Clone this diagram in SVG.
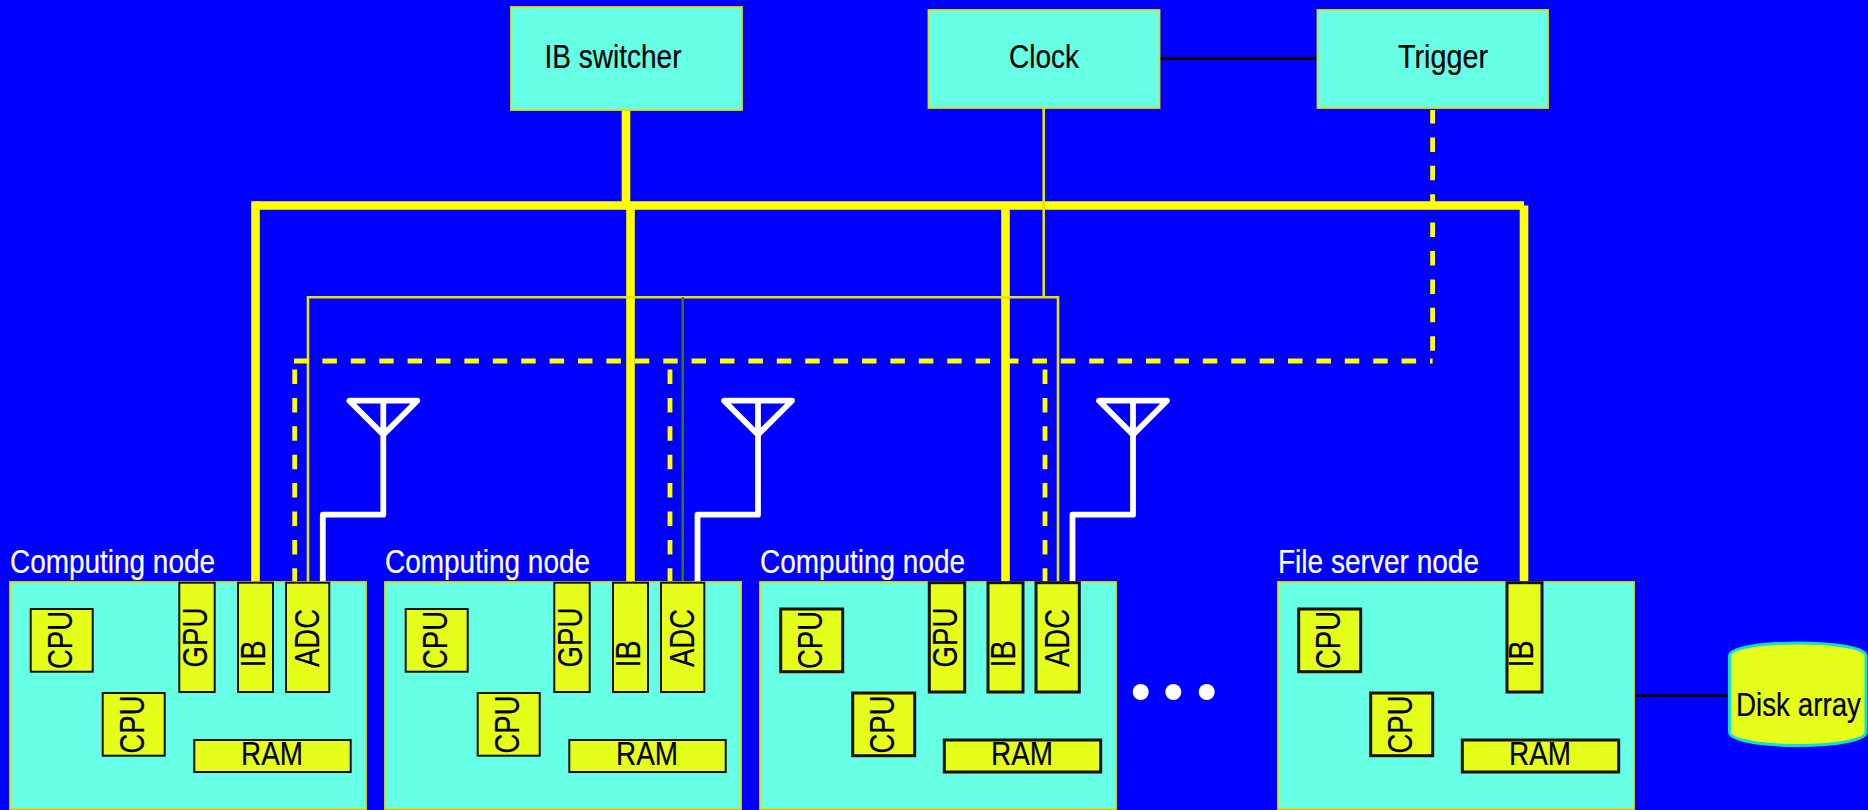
<svg xmlns="http://www.w3.org/2000/svg" width="1868" height="810" viewBox="0 0 1868 810">
<style>
.box{fill:#66ffe6;stroke:#e0e000;stroke-width:1.8}
.c{fill:#e6ff1a;stroke:#111;stroke-width:2}
.c2{fill:#e6ff1a;stroke:#111;stroke-width:3}
.t{font-family:"Liberation Sans",Arial,sans-serif;font-size:32.5px;fill:#000;stroke:#000;stroke-width:.2}
.r{font-size:35px}
.w{fill:#fff;stroke:#fff}
.l{fill:none}
.y8{stroke:#ffff00;stroke-width:8.6}
.y2{stroke:#e4e400;stroke-width:2.6}
.g{stroke:#3a7d0a;stroke-width:2.4}
.d{stroke:#ffff00;stroke-width:4.8;stroke-dasharray:14.5 13.9}
.a{stroke:#fff;stroke-width:5.8;stroke-linecap:round;stroke-linejoin:round}
.k{stroke:#000;stroke-width:2.8}
</style>
<defs>
<g id="ant"><path class="l a" d="M-34 0H34L0 34ZM0 0V114H-60.500V181.500"/></g>
</defs>
<rect width="1868" height="810" fill="#0000ff"/>
<g id="connectors">
<path class="l y8" d="M626 110V205"/>
<path class="l y8" d="M255.500 205.500H1524"/>
<path class="l y8" d="M255.500 201.200V582"/>
<path class="l y8" d="M630.500 205V582"/>
<path class="l y8" d="M1005.500 205V582"/>
<path class="l y8" d="M1524 205.500V582"/>
<path class="l y2" d="M1043.700 108V297"/>
<path class="l y2" d="M308 582V297.300H1058V582"/>
<path class="l g" d="M682.700 297V582"/>
<path class="l d" d="M1432.600 110V361" stroke-dashoffset="1"/>
<path class="l d" d="M1432.600 361H294" stroke-dashoffset="11.900"/>
<path class="l d" d="M294.700 369.500V582"/>
<path class="l d" d="M670 369.500V582"/>
<path class="l d" d="M1045 369.500V582"/>
<path class="l k" d="M1160 58.500H1317"/>
<path class="l k" d="M1634 695.700H1728"/>
<use href="#ant" x="383.300" y="400.700"/>
<use href="#ant" x="758" y="400.700"/>
<use href="#ant" x="1133" y="400.700"/>
</g>
<g id="ib-switcher"><rect class="box" x="511" y="7" width="231" height="103"/><text class="t" x="544.500" y="68" textLength="137" lengthAdjust="spacingAndGlyphs">IB switcher</text></g>
<g id="clock"><rect class="box" x="928.500" y="10" width="231" height="98"/><text class="t" x="1009" y="68" textLength="70" lengthAdjust="spacingAndGlyphs">Clock</text></g>
<g id="trigger"><rect class="box" x="1317.500" y="10" width="230.500" height="98"/><text class="t" x="1398" y="68" textLength="90" lengthAdjust="spacingAndGlyphs">Trigger</text></g>

<g id="node1">
<text class="t w" x="10" y="572.500" textLength="205" lengthAdjust="spacingAndGlyphs">Computing node</text>
<rect class="box" x="10" y="582" width="356" height="227"/>
<rect class="c" x="30.700" y="609" width="62" height="62.700"/><text class="t r" transform="translate(71.500 669) rotate(-90)" textLength="58" lengthAdjust="spacingAndGlyphs">CPU</text>
<rect class="c" x="102.700" y="693" width="62" height="62.700"/><text class="t r" transform="translate(143.500 753.500) rotate(-90)" textLength="58" lengthAdjust="spacingAndGlyphs">CPU</text>
<rect class="c" x="179.300" y="582.700" width="35.400" height="109.300"/><text class="t r" transform="translate(206.500 667.500) rotate(-90)" textLength="60" lengthAdjust="spacingAndGlyphs">GPU</text>
<rect class="c" x="238" y="582.700" width="35" height="109.300"/><text class="t r" transform="translate(265 667.500) rotate(-90)" textLength="27" lengthAdjust="spacingAndGlyphs">IB</text>
<rect class="c" x="286" y="582.700" width="43.300" height="109.300"/><text class="t r" transform="translate(319 667) rotate(-90)" textLength="58" lengthAdjust="spacingAndGlyphs">ADC</text>
<rect class="c" x="194.300" y="740" width="156.400" height="32"/><text class="t" x="241" y="765" textLength="62" lengthAdjust="spacingAndGlyphs">RAM</text>
</g>
<g id="node2" transform="translate(375 0)">
<text class="t w" x="10" y="572.500" textLength="205" lengthAdjust="spacingAndGlyphs">Computing node</text>
<rect class="box" x="10" y="582" width="356" height="227"/>
<rect class="c" x="30.700" y="609" width="62" height="62.700"/><text class="t r" transform="translate(71.500 669) rotate(-90)" textLength="58" lengthAdjust="spacingAndGlyphs">CPU</text>
<rect class="c" x="102.700" y="693" width="62" height="62.700"/><text class="t r" transform="translate(143.500 753.500) rotate(-90)" textLength="58" lengthAdjust="spacingAndGlyphs">CPU</text>
<rect class="c" x="179.300" y="582.700" width="35.400" height="109.300"/><text class="t r" transform="translate(206.500 667.500) rotate(-90)" textLength="60" lengthAdjust="spacingAndGlyphs">GPU</text>
<rect class="c" x="238" y="582.700" width="35" height="109.300"/><text class="t r" transform="translate(265 667.500) rotate(-90)" textLength="27" lengthAdjust="spacingAndGlyphs">IB</text>
<rect class="c" x="286" y="582.700" width="43.300" height="109.300"/><text class="t r" transform="translate(319 667) rotate(-90)" textLength="58" lengthAdjust="spacingAndGlyphs">ADC</text>
<rect class="c" x="194.300" y="740" width="156.400" height="32"/><text class="t" x="241" y="765" textLength="62" lengthAdjust="spacingAndGlyphs">RAM</text>
</g>
<g id="node3" transform="translate(750 0)">
<text class="t w" x="10" y="572.500" textLength="205" lengthAdjust="spacingAndGlyphs">Computing node</text>
<rect class="box" x="10" y="582" width="356" height="227"/>
<rect class="c2" x="30.700" y="609" width="62" height="62.700"/><text class="t r" transform="translate(71.500 669) rotate(-90)" textLength="58" lengthAdjust="spacingAndGlyphs">CPU</text>
<rect class="c2" x="102.700" y="693" width="62" height="62.700"/><text class="t r" transform="translate(143.500 753.500) rotate(-90)" textLength="58" lengthAdjust="spacingAndGlyphs">CPU</text>
<rect class="c2" x="179.300" y="582.700" width="35.400" height="109.300"/><text class="t r" transform="translate(206.500 667.500) rotate(-90)" textLength="60" lengthAdjust="spacingAndGlyphs">GPU</text>
<rect class="c2" x="238" y="582.700" width="35" height="109.300"/><text class="t r" transform="translate(265 667.500) rotate(-90)" textLength="27" lengthAdjust="spacingAndGlyphs">IB</text>
<rect class="c2" x="286" y="582.700" width="43.300" height="109.300"/><text class="t r" transform="translate(319 667) rotate(-90)" textLength="58" lengthAdjust="spacingAndGlyphs">ADC</text>
<rect class="c2" x="194.300" y="740" width="156.400" height="32"/><text class="t" x="241" y="765" textLength="62" lengthAdjust="spacingAndGlyphs">RAM</text>
</g>
<g id="file-server" transform="translate(1268 0)">
<text class="t w" x="10" y="573" textLength="201" lengthAdjust="spacingAndGlyphs">File server node</text>
<rect class="box" x="10" y="582" width="356" height="227"/>
<rect class="c2" x="30.700" y="609" width="62" height="62.700"/><text class="t r" transform="translate(71.500 669) rotate(-90)" textLength="58" lengthAdjust="spacingAndGlyphs">CPU</text>
<rect class="c2" x="102.700" y="693" width="62" height="62.700"/><text class="t r" transform="translate(143.500 753.500) rotate(-90)" textLength="58" lengthAdjust="spacingAndGlyphs">CPU</text>
<rect class="c2" x="239" y="582.700" width="35" height="109.300"/><text class="t r" transform="translate(265 667.500) rotate(-90)" textLength="27" lengthAdjust="spacingAndGlyphs">IB</text>
<rect class="c2" x="194.300" y="740" width="156.400" height="32"/><text class="t" x="241" y="765" textLength="62" lengthAdjust="spacingAndGlyphs">RAM</text>
</g>
<g id="dots" fill="#fff"><circle cx="1140.700" cy="692" r="8"/><circle cx="1173.300" cy="692" r="8"/><circle cx="1206.700" cy="692" r="8"/></g>
<g id="disk-array">
<path d="M1729.500 656C1729.500 648 1760 643 1798 643S1866 648 1866 656V732C1866 740 1836 745.500 1798 745.500S1729.500 740 1729.500 732Z" fill="#e6ff1a" stroke="#10e0c8" stroke-width="3"/>
<text class="t" x="1736" y="716" textLength="125" lengthAdjust="spacingAndGlyphs">Disk array</text>
</g>
</svg>
